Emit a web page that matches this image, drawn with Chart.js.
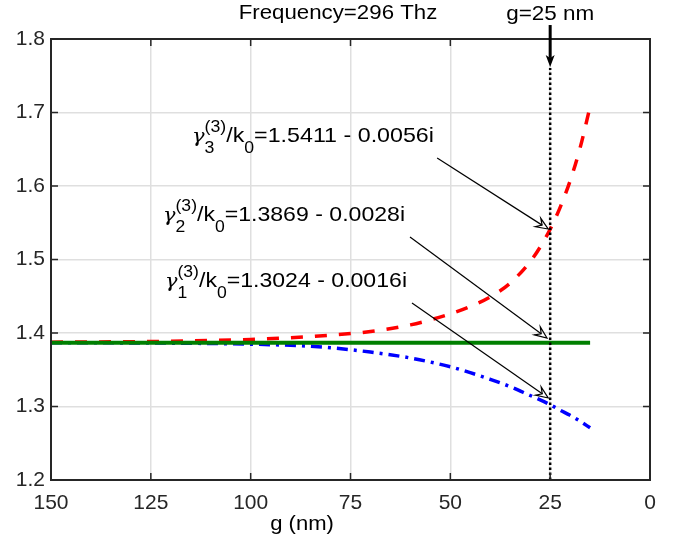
<!DOCTYPE html>
<html>
<head>
<meta charset="utf-8">
<script src="https://cdn.jsdelivr.net/npm/chart.js@4.4.1/dist/chart.umd.min.js"></script>
<style>
html,body{margin:0;padding:0;background:#fff;}
#wrap{width:683px;height:536px;}
</style>
</head>
<body>
<div id="wrap"><canvas id="c" width="683" height="536"></canvas></div>
<script>
// ---------- data ----------
const gSamples = [150,140,130,120,110,100,90,80,70,60,50,45,40,35,30,27.5,25,22.5,20,17.5,15];
const gamma3Re = [1.3875,1.3878,1.3882,1.3888,1.3898,1.3912,1.3935,1.3970,1.4020,1.4110,1.4260,1.4360,1.4490,1.4680,1.4970,1.5170,1.5411,1.5710,1.6070,1.6520,1.7080];
const gamma1Re = [1.3868,1.3867,1.3865,1.3862,1.3857,1.3848,1.3832,1.3800,1.3740,1.3660,1.3540,1.3460,1.3370,1.3270,1.3150,1.3090,1.3024,1.2950,1.2880,1.2800,1.2710];
const gGreen = [150,15];
const gamma2Re = [1.3869,1.3869];
const markerG = [25];
const markerRange = [1.2,1.7605];
const xTicks = [150,125,100,75,50,25,0];
const yTicks = [1.2,1.3,1.4,1.5,1.6,1.7,1.8];
const modeIndex = [3,2,1];
const modeRe = ['1.5411','1.3869','1.3024'];
const modeIm = ['0.0056','0.0028','0.0016'];
const titleText = 'Frequency=296 Thz';
const xLabel = 'g (nm)';
const markerLabel = 'g=25 nm';

// ---------- annotation layout (data coordinates) ----------
const labelPos = [[114.7,1.6599],[121.95,1.5524],[121.45,1.4626]];
const arrowFrom = [[53.3,1.638],[60.1,1.5306],[59.6,1.4408]];
const arrowTo = [[25.5,1.5415],[25.8,1.3932],[25.5,1.3116]];

const FONT = '"Liberation Sans", Arial, Helvetica, sans-serif';
const GREEK = '"DejaVu Serif", serif';
const AXC = '#262626';

function pts(xs, ys){ return xs.map((x,i)=>({x:x, y:ys[i]})); }

function stretchText(ctx, s, x, y, size, sx, align){
  ctx.save();
  ctx.font = size + 'px ' + FONT;
  const w = ctx.measureText(s).width * sx;
  const x0 = align === 'center' ? x - w/2 : x;
  ctx.translate(x0, y); ctx.scale(sx, 1);
  ctx.textAlign = 'left'; ctx.textBaseline = 'alphabetic';
  ctx.fillStyle = '#000';
  ctx.fillText(s, 0, 0);
  ctx.restore();
}

function richLabel(ctx, parts, x, y, targetW){
  const main = '21px ' + FONT, ital = 'italic 19px ' + GREEK, small = '16px ' + FONT;
  ctx.save();
  const widths = [];
  let total = 0;
  for (const p of parts){
    let w;
    if (p.t !== undefined){ ctx.font = p.it ? ital : main; w = ctx.measureText(p.t).width; }
    else { ctx.font = small; w = Math.max(p.sup ? ctx.measureText(p.sup).width : 0, p.sub ? ctx.measureText(p.sub).width : 0); }
    widths.push(w); total += w;
  }
  const sx = targetW / total;
  ctx.translate(x, y); ctx.scale(sx, 1);
  ctx.fillStyle = '#000'; ctx.textAlign = 'left'; ctx.textBaseline = 'alphabetic';
  let cx = 0;
  parts.forEach((p, i) => {
    if (p.t !== undefined){ ctx.font = p.it ? ital : main; ctx.fillText(p.t, cx, 0); }
    else {
      ctx.font = small;
      if (p.sup) ctx.fillText(p.sup, cx, -10);
      if (p.sub) ctx.fillText(p.sub, cx, 11);
    }
    cx += widths[i];
  });
  ctx.restore();
}

function thinArrow(ctx, x1, y1, x2, y2){
  const dx = x2 - x1, dy = y2 - y1, len = Math.hypot(dx, dy);
  const ux = dx/len, uy = dy/len, nx = -uy, ny = ux;
  const L = 12, W = 10;
  const bx = x2 - ux*L, by = y2 - uy*L;
  const ntx = x2 - ux*L*0.6, nty = y2 - uy*L*0.6;
  ctx.save();
  ctx.strokeStyle = '#000'; ctx.lineWidth = 1.2;
  ctx.beginPath(); ctx.moveTo(x1, y1); ctx.lineTo(ntx, nty); ctx.stroke();
  ctx.beginPath();
  ctx.moveTo(bx + nx*W/2, by + ny*W/2);
  ctx.lineTo(x2, y2);
  ctx.lineTo(bx - nx*W/2, by - ny*W/2);
  ctx.lineTo(ntx, nty);
  ctx.closePath();
  ctx.stroke();
  ctx.restore();
}

const deco = {
  id: 'deco',
  afterDraw(chart){
    const ctx = chart.ctx, ca = chart.chartArea;
    const xs = chart.scales.x, ys = chart.scales.y;
    ctx.save();
    ctx.strokeStyle = AXC; ctx.lineWidth = 2;
    ctx.strokeRect(ca.left, ca.top, ca.right - ca.left, ca.bottom - ca.top);
    ctx.lineWidth = 1.5;
    ctx.beginPath();
    xTicks.forEach(v => {
      const px = xs.getPixelForValue(v);
      ctx.moveTo(px, ca.bottom); ctx.lineTo(px, ca.bottom - 7);
      ctx.moveTo(px, ca.top); ctx.lineTo(px, ca.top + 7);
    });
    yTicks.forEach(v => {
      const py = ys.getPixelForValue(v);
      ctx.moveTo(ca.left, py); ctx.lineTo(ca.left + 7, py);
      ctx.moveTo(ca.right, py); ctx.lineTo(ca.right - 7, py);
    });
    ctx.stroke();
    ctx.restore();

    stretchText(ctx, titleText, 338, 19, 21, 1.06, 'center');
    stretchText(ctx, xLabel, 302, 530, 21, 1.05, 'center');
    const mx = xs.getPixelForValue(markerG[0]);
    stretchText(ctx, markerLabel, mx, 20, 21, 1.07, 'center');
    const ay1 = ys.getPixelForValue(1.819), ay2 = ys.getPixelForValue(1.762);
    ctx.save();
    ctx.strokeStyle = '#000'; ctx.fillStyle = '#000'; ctx.lineWidth = 3;
    ctx.beginPath(); ctx.moveTo(mx, ay1); ctx.lineTo(mx, ay2 - 9); ctx.stroke();
    ctx.beginPath();
    ctx.moveTo(mx - 4.5, ay2 - 12); ctx.lineTo(mx, ay2); ctx.lineTo(mx + 4.5, ay2 - 12); ctx.lineTo(mx, ay2 - 9); ctx.closePath();
    ctx.fill();
    ctx.restore();

    for (let i = 0; i < 3; i++){
      thinArrow(ctx, xs.getPixelForValue(arrowFrom[i][0]), ys.getPixelForValue(arrowFrom[i][1]),
                     xs.getPixelForValue(arrowTo[i][0]), ys.getPixelForValue(arrowTo[i][1]));
    }
    for (let i = 0; i < 3; i++){
      const parts = [
        {t:'\u03B3', it:true},
        {sup:'(3)', sub:String(modeIndex[i])},
        {t:'/k'},
        {sub:'0'},
        {t:'=' + modeRe[i] + ' - ' + modeIm[i] + 'i'}
      ];
      richLabel(ctx, parts, xs.getPixelForValue(labelPos[i][0]), ys.getPixelForValue(labelPos[i][1]), 242);
    }
  }
};

const tickFont = {family: FONT, size: 21};

new Chart(document.getElementById('c'), {
  type: 'line',
  data: {
    datasets: [
      {data: pts([markerG[0], markerG[0]], markerRange), borderColor:'#000', borderWidth:2.5, borderDash:[2.5,2.5], pointRadius:0, order:0, tension:0},
      {data: pts(gGreen, gamma2Re), borderColor:'#007f00', borderWidth:4, pointRadius:0, order:1, tension:0},
      {data: pts(gSamples, gamma1Re), borderColor:'#0000ff', borderWidth:3.5, borderDash:[11,6,3,6], pointRadius:0, order:2, cubicInterpolationMode:'monotone'},
      {data: pts(gSamples, gamma3Re), borderColor:'#ff0000', borderWidth:3.5, borderDash:[12,12], pointRadius:0, order:3, cubicInterpolationMode:'monotone'}
    ]
  },
  options: {
    responsive: false,
    animation: false,
    devicePixelRatio: 1,
    layout: {padding: {top: 39, right: 33, left: 0, bottom: 0}},
    plugins: {legend: {display: false}, tooltip: {enabled: false}, title: {display: false}},
    scales: {
      x: {
        type: 'linear', reverse: true, min: 0, max: 150,
        afterBuildTicks: s => { s.ticks = xTicks.map(v => ({value: v})); },
        afterFit: s => { s.height = 56; },
        ticks: {font: tickFont, color: AXC, padding: 11, maxRotation: 0, autoSkip: false, callback: v => String(v)},
        grid: {color: '#dfdfdf', lineWidth: 1.5, drawTicks: false},
        border: {display: false}
      },
      y: {
        type: 'linear', min: 1.2, max: 1.8,
        afterBuildTicks: s => { s.ticks = yTicks.map(v => ({value: v})); },
        afterFit: s => { s.width = 51; },
        ticks: {font: tickFont, color: AXC, padding: 6, autoSkip: false, callback: v => Number(v).toFixed(1)},
        grid: {color: '#dfdfdf', lineWidth: 1.5, drawTicks: false},
        border: {display: false}
      }
    }
  },
  plugins: [deco]
});
</script>
</body>
</html>
